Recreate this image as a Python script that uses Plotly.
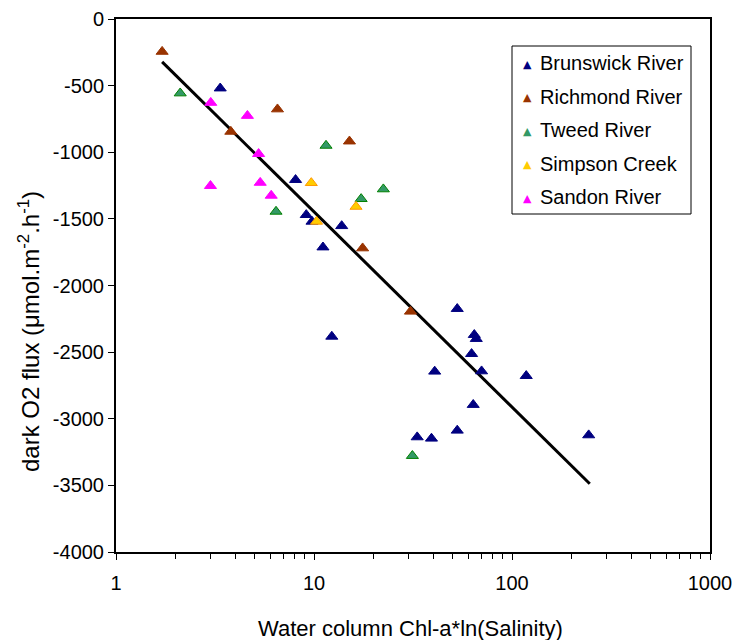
import plotly.graph_objects as go

# Water column Chl-a*ln(Salinity) vs dark O2 flux, by estuary
brunswick_x = [3.36, 8.07, 9.14, 9.77, 13.8, 11.1, 12.3, 52.9, 64.5, 66.0, 62.5,
               40.7, 70.2, 118, 63.7, 52.9, 33.2, 39.2, 244]
brunswick_y = [-520, -1207, -1470, -1520, -1553, -1713, -2383, -2175, -2370, -2400, -2513,
               -2645, -2643, -2678, -2895, -3088, -3138, -3148, -3123]

richmond_x = [1.71, 3.80, 6.54, 15.1, 17.6, 30.7]
richmond_y = [-245, -845, -677, -918, -1720, -2195]

tweed_x = [2.11, 6.43, 11.5, 17.3, 22.4, 31.4]
tweed_y = [-557, -1445, -950, -1350, -1277, -3278]

simpson_x = [9.69, 10.3, 16.3]
simpson_y = [-1230, -1520, -1408]

sandon_x = [3.01, 4.61, 5.25, 3.00, 5.35, 6.08]
sandon_y = [-628, -726, -1012, -1252, -1228, -1325]

# Log-linear trend line end points
trend_x = [1.71, 247]
trend_y = [-322, -3488]

y_ticks = [0, -500, -1000, -1500, -2000, -2500, -3000, -3500, -4000]
x_ticks = [1, 10, 100, 1000]

series = [
    ("Brunswick River", brunswick_x, brunswick_y, "#000080", "#000080"),
    ("Richmond River", richmond_x, richmond_y, "#993300", "#993300"),
    ("Tweed River", tweed_x, tweed_y, "#339966", "#008000"),
    ("Simpson Creek", simpson_x, simpson_y, "#FFCC00", "#FF9900"),
    ("Sandon River", sandon_x, sandon_y, "#FF00FF", "#FF00FF"),
]

W, H = 733, 640
M_L, M_R, M_T, M_B = 116, 23, 19, 88
PW, PH = W - M_L - M_R, H - M_T - M_B


def px_to_paper(px, py):
    """Convert page pixel position to paper coordinates of the plot area."""
    return (px - M_L) / PW, (H - M_B - py) / PH


fig = go.Figure()

fig.add_trace(go.Scatter(
    x=trend_x, y=trend_y, mode="lines",
    line=dict(color="black", width=3),
    showlegend=False, hoverinfo="skip",
))

for name, xs, ys, fill, edge in series:
    fig.add_trace(go.Scatter(
        x=xs, y=ys, mode="markers", name=name, showlegend=False,
        marker=dict(symbol="triangle-up", size=10.5, color=fill,
                    line=dict(color=edge, width=1)),
    ))

font_family = "Liberation Sans, Arial, sans-serif"

# Boxed key in the upper right corner
x0, y0 = px_to_paper(512, 46)
x1, y1 = px_to_paper(691, 214)
fig.add_shape(type="rect", xref="paper", yref="paper",
              x0=x0, y0=y0, x1=x1, y1=y1,
              line=dict(color="black", width=1), fillcolor="white", layer="above")

row_y = [63, 97, 130, 164, 197]
for (name, _, _, fill, edge), ry in zip(series, row_y):
    mx, my = px_to_paper(527, ry + 1)
    fig.add_annotation(x=mx, y=my, xref="paper", yref="paper", text="\u25b2",
                       showarrow=False, xanchor="center", yanchor="middle",
                       font=dict(size=11, color=fill, family="DejaVu Sans"))
    tx, ty = px_to_paper(538, ry)
    fig.add_annotation(x=tx, y=ty, xref="paper", yref="paper", text=name,
                       showarrow=False, xanchor="left", yanchor="middle",
                       font=dict(size=20, color="black", family=font_family))

# Axis titles placed as paper annotations
xt, yt = px_to_paper(410, 628)
fig.add_annotation(x=xt, y=yt, xref="paper", yref="paper",
                   text="Water column Chl-a*ln(Salinity)", showarrow=False,
                   xanchor="center", yanchor="middle",
                   font=dict(size=22, color="black", family=font_family))
xt, yt = px_to_paper(29, 332)
fig.add_annotation(x=xt, y=yt, xref="paper", yref="paper",
                   text="dark O2 flux (\u03bcmol.m<sup>-2</sup>.h<sup>-1</sup>)",
                   showarrow=False, textangle=-90,
                   xanchor="center", yanchor="middle",
                   font=dict(size=24, color="black", family=font_family))

fig.update_layout(
    width=W, height=H,
    margin=dict(l=M_L, r=M_R, t=M_T, b=M_B),
    paper_bgcolor="white", plot_bgcolor="white",
    font=dict(family=font_family, size=20, color="black"),
    showlegend=False,
    xaxis=dict(
        type="log", range=[0, 3], automargin=False,
        tickvals=x_ticks, ticktext=[str(v) for v in x_ticks],
        ticks="outside", ticklen=6, tickwidth=1, tickcolor="black",
        ticklabelstandoff=6,
        minor=dict(ticks="outside", ticklen=5, tickcolor="black", dtick="D1",
                   showgrid=False),
        showline=True, linecolor="black", linewidth=2, mirror=True,
        showgrid=False, zeroline=False,
        tickfont=dict(size=20),
    ),
    yaxis=dict(
        range=[-4000, 0], automargin=False,
        tickvals=y_ticks, ticktext=[str(v) for v in y_ticks],
        ticks="outside", ticklen=6, tickwidth=1, tickcolor="black",
        showline=True, linecolor="black", linewidth=2, mirror=True,
        showgrid=False, zeroline=False,
        tickfont=dict(size=20),
    ),
)

fig.write_html("out.html")
